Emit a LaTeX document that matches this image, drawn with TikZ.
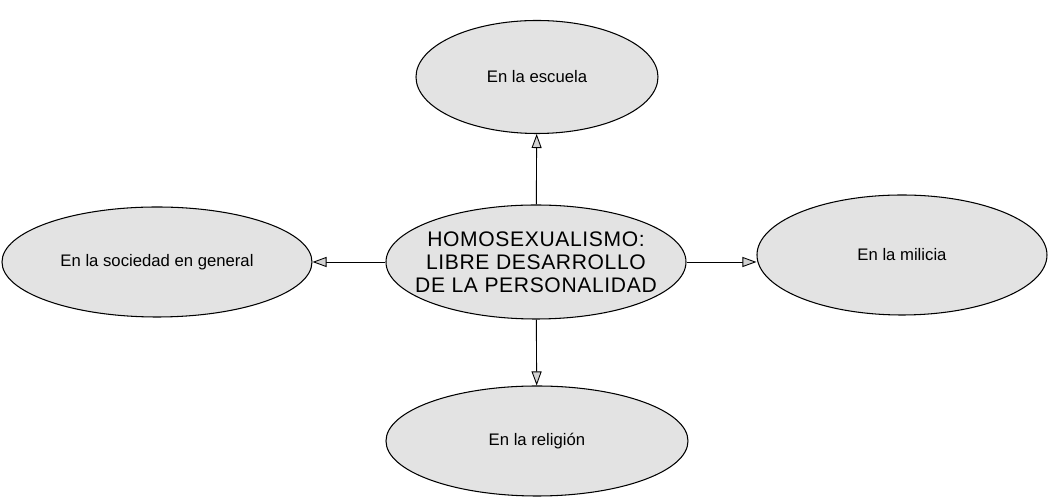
\documentclass[tikz,border=0pt]{standalone}
\usepackage{fontspec}
\setmainfont{Liberation Sans}
\usetikzlibrary{shapes.geometric,arrows.meta}
\begin{document}
\begin{tikzpicture}
\tikzstyle{topic} = [ellipse, draw=black, line width=0.6pt, fill=gray!22, inner sep=0pt, text centered, font=\fontsize{9.5}{11}\selectfont]
\tikzstyle{link} = [line width=0.5pt, -{Triangle[length=0.28cm, width=0.2cm, fill=gray!35]}]
\useasboundingbox (-10.72,-4.76) rectangle (10.28,5.24);
\node (tema) [topic, minimum width=6cm, minimum height=2.28cm, inner xsep=-0.3cm, align=center, font=\fontsize{12}{13}\selectfont\addfontfeature{LetterSpace=3}] {HOMOSEXUALISMO:\\LIBRE DESARROLLO\\DE LA PERSONALIDAD};
\node (escuela) [topic, minimum width=4.84cm, minimum height=2.26cm] at (0.02,3.70) {En la escuela};
\node (sociedad) [topic, minimum width=6.2cm, minimum height=2.2cm] at (-7.58,0) {En la sociedad en general};
\node (milicia) [topic, minimum width=5.8cm, minimum height=2.4cm] at (7.32,0.14) {En la milicia};
\node (religion) [topic, minimum width=6.04cm, minimum height=2.2cm] at (0.02,-3.58) {En la religión};
\draw [link] (tema) -- (escuela);
\draw [link] (tema) -- (sociedad);
\draw [link] (tema.east) -- (tema.east -| milicia.west);
\draw [link] (tema) -- (religion);
\end{tikzpicture}
\end{document}
